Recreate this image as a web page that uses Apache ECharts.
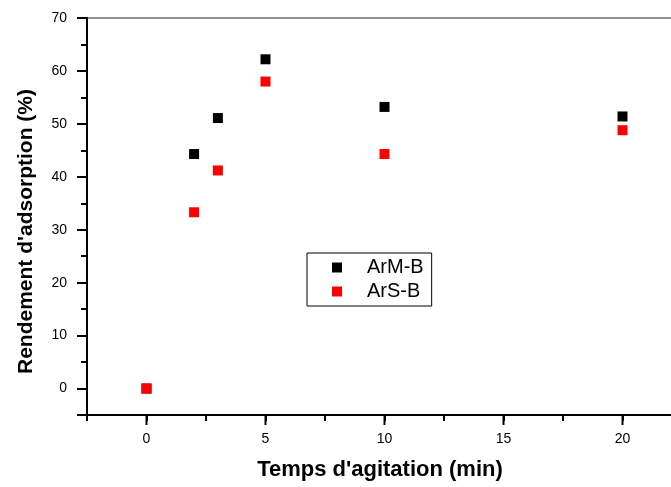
<!DOCTYPE html>
<html>
<head>
<meta charset="utf-8">
<script src="https://cdn.jsdelivr.net/npm/echarts@6/dist/echarts.min.js"></script>
<style>html,body{margin:0;padding:0;background:#fff}#c{width:671px;height:487px}</style>
</head>
<body>
<div id="c"></div>
<script>
// Data
var times = [0, 2, 3, 5, 10, 20];
var armB = [0, 44.3, 51.1, 62.2, 53.2, 51.4];
var arsB = [0, 33.3, 41.2, 58.0, 44.3, 48.8];
var xTicks = [0, 5, 10, 15, 20];
var yTicks = [0, 10, 20, 30, 40, 50, 60, 70];
var seriesNames = ['ArM-B', 'ArS-B'];
var xTitle = "Temps d'agitation (min)";
var yTitle = "Rendement d'adsorption (%)";

var FONT = "'Liberation Sans', Arial, sans-serif";
var X_MIN = -2.5, X_MAX = 22.5, Y_MIN = -5, Y_MAX = 70;
function pairs(xs, ys) { return xs.map(function (x, i) { return [x, ys[i]]; }); }

var chart = echarts.init(document.getElementById('c'), null, { renderer: 'canvas' });
chart.setOption({
  animation: false,
  backgroundColor: '#fff',
  grid: { left: 87, top: 18, width: 595, height: 397, containLabel: false, outerBoundsMode: 'none',
          show: true, borderColor: '#222', borderWidth: 1.2, backgroundColor: 'transparent' },
  xAxis: [
    {
      type: 'value', min: X_MIN, max: X_MAX, interval: 2.5, position: 'bottom',
      axisLine: { show: true, onZero: false, lineStyle: { color: '#000', width: 2 } },
      axisTick: { show: true, inside: false, length: 6, lineStyle: { color: '#000', width: 2 } },
      axisLabel: {
        show: true, margin: 17, color: '#000', fontSize: 14, fontFamily: FONT,
        formatter: function (v) { return xTicks.indexOf(v) >= 0 ? String(v) : ''; }
      },
      splitLine: { show: false }
    }
  ],
  yAxis: [
    {
      type: 'value', min: Y_MIN, max: Y_MAX, interval: 5, position: 'left',
      axisLine: { show: true, onZero: false, lineStyle: { color: '#000', width: 2 } },
      axisTick: { show: true, inside: false, length: 6, lineStyle: { color: '#000', width: 2 } },
      axisLabel: {
        show: true, margin: 20, color: '#000', fontSize: 14, fontFamily: FONT,
        formatter: function (v) { return yTicks.indexOf(v) >= 0 ? String(v) : ''; }
      },
      splitLine: { show: false }
    },
    {
      // mirrored helper axis: its ticks counted from min land on the labelled values
      type: 'value', min: Y_MIN, max: Y_MAX, interval: 10, inverse: true, position: 'left',
      axisLine: { show: false, onZero: false },
      axisTick: { show: true, inside: false, length: 10, lineStyle: { color: '#000', width: 2 } },
      axisLabel: { show: false },
      splitLine: { show: false }
    }
  ],
  legend: {
    orient: 'vertical', left: 307, top: 253,
    data: seriesNames,
    icon: 'rect', itemWidth: 10, itemHeight: 10, itemGap: 2,
    padding: [3.5, 8, 3.5, 25],
    borderColor: '#000', borderWidth: 1, backgroundColor: '#fff',
    textStyle: { color: '#000', fontSize: 20, fontFamily: FONT, lineHeight: 22, padding: [0, 0, 0, 20] }
  },
  graphic: [
    { type: 'text', x: 380, y: 470, style: { text: xTitle, fill: '#000', font: 'bold 22px ' + FONT, align: 'center', verticalAlign: 'middle' } },
    { type: 'text', x: 26, y: 231.5, rotation: Math.PI / 2, style: { text: yTitle, fill: '#000', font: 'bold 21px ' + FONT, align: 'center', verticalAlign: 'middle' } }
  ],
  series: [
    { name: seriesNames[0], type: 'scatter', xAxisIndex: 0, yAxisIndex: 0, symbol: 'rect', symbolSize: 10,
      itemStyle: { color: '#000', opacity: 1 }, data: pairs(times, armB), z: 3 },
    { name: seriesNames[1], type: 'scatter', xAxisIndex: 0, yAxisIndex: 0, symbol: 'rect', symbolSize: 10,
      itemStyle: { color: '#ff0000', opacity: 1 }, data: pairs(times, arsB), z: 4 },
    { // longer major ticks on the x axis, placed through the axis scale
      type: 'custom', xAxisIndex: 0, yAxisIndex: 0, silent: true, clip: false, z: 10, zlevel: 1,
      itemStyle: { color: '#000' },
      data: xTicks.map(function (v) { return [v, Y_MIN]; }),
      encode: { x: 0, y: 1 },
      renderItem: function (params, api) {
        var p = api.coord([api.value(0), api.value(1)]);
        return { type: 'rect', shape: { x: p[0] - 1, y: p[1], width: 2, height: 10 },
                 style: { fill: '#000' } };
      }
    }
  ]
});
</script>
</body>
</html>
